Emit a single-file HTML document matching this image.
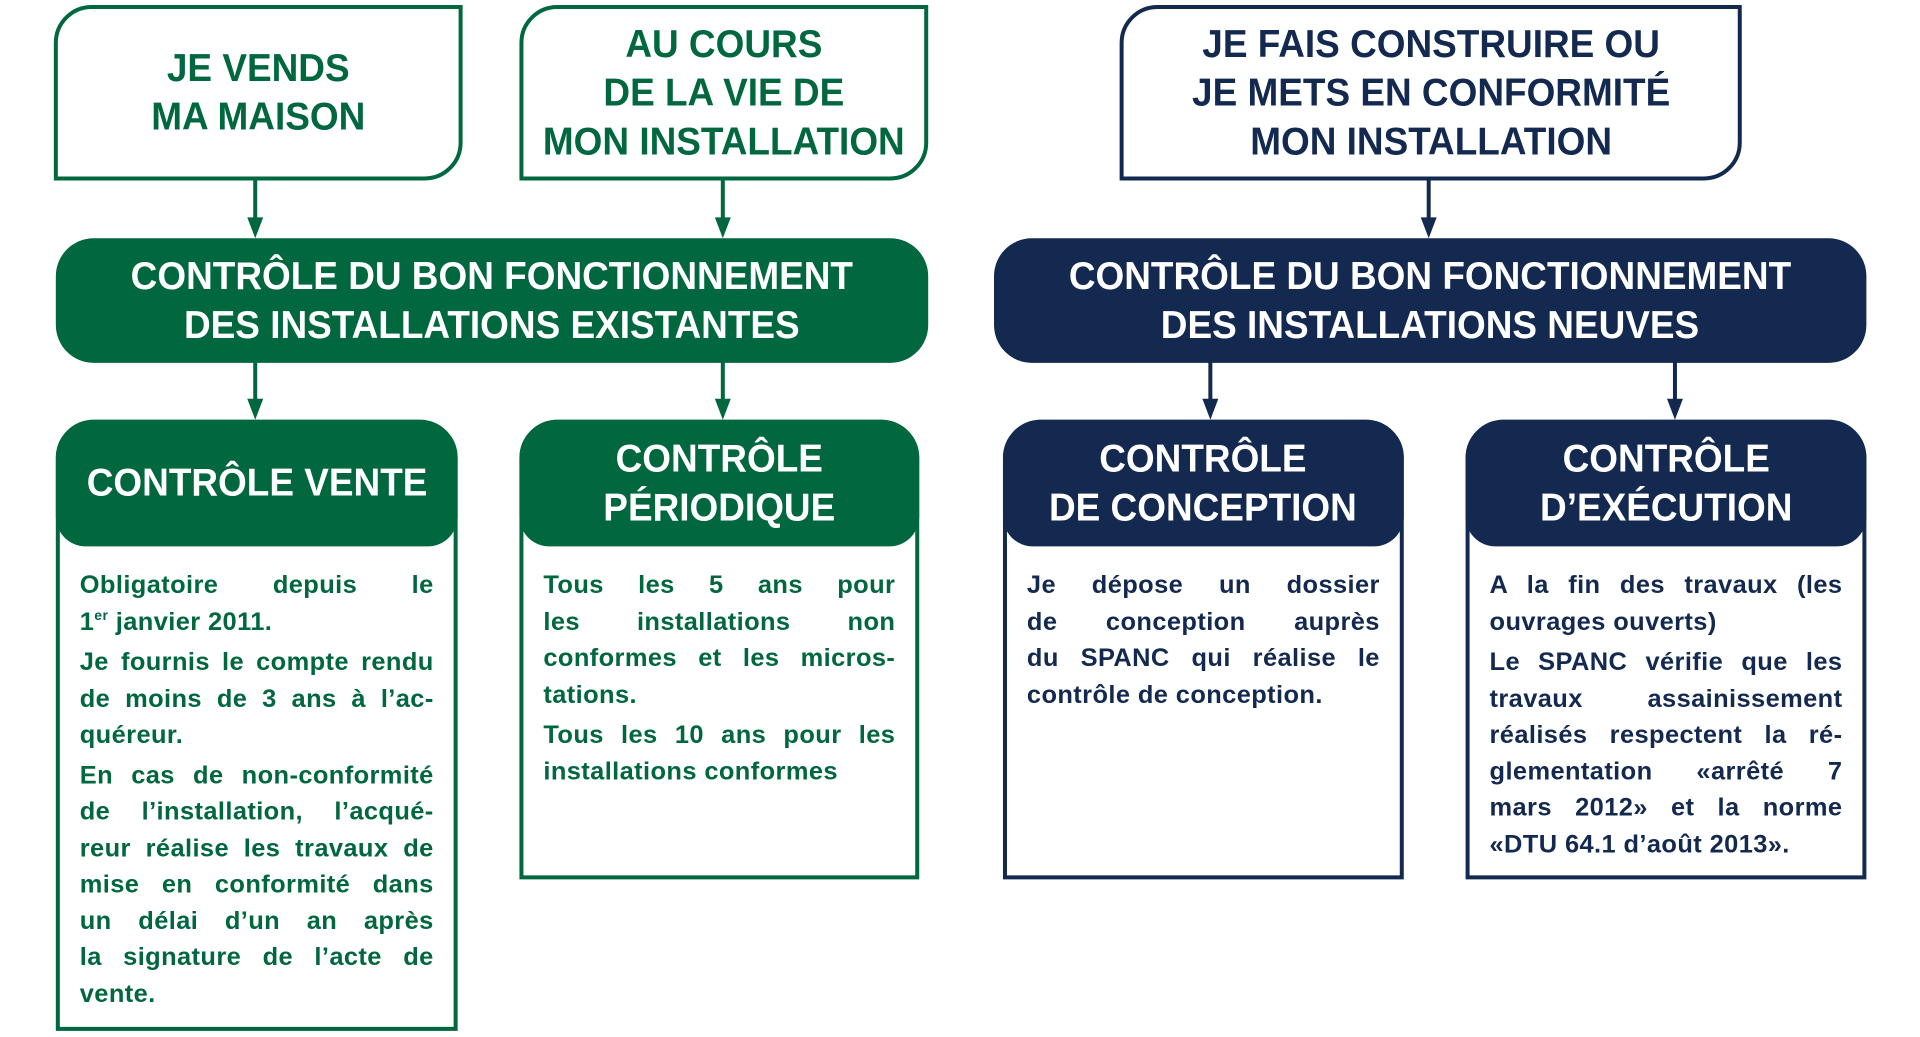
<!DOCTYPE html>
<html><head><meta charset="utf-8"><style>
*{margin:0;padding:0;box-sizing:border-box}
body{width:1920px;height:1033px;background:#fff;position:relative;overflow:hidden;font-family:"Liberation Sans",sans-serif;font-weight:bold}
#w{position:absolute;left:-1px;top:0;width:1932px;height:1040px;transform:scale(0.997);transform-origin:0 0}
.a{position:absolute}
.g{color:#00673f;border-color:#00673f}
.n{color:#13294f;border-color:#13294f}
.top{border:4px solid;border-radius:38px 0 38px 0;display:flex;align-items:center;justify-content:center;text-align:center;font-size:39px;line-height:49px}
.ban{border-radius:38px;display:flex;align-items:center;justify-content:center;text-align:center;font-size:39px;line-height:49px;color:#fff}
.sq{display:inline-block;transform:scaleX(0.95);white-space:nowrap}
.card{border:4px solid;border-radius:38px 38px 0 0}
.hd{position:absolute;left:-4px;top:-4px;right:-4px;height:127px;border-radius:38px 38px 30px 30px;color:#fff;display:flex;align-items:center;justify-content:center;text-align:center;font-size:39px;line-height:49px}
.body{position:absolute;left:20px;right:20px;top:144px;font-size:25.5px;line-height:36.5px;letter-spacing:0.4px}
.body div{white-space:nowrap;text-align:justify;text-align-last:justify}
.body div.l{text-align-last:left}
.body .p{margin-top:4px}
sup{font-size:14px;line-height:0;vertical-align:10px}
.bg{background:#00673f}.bn{background:#13294f}
</style></head><body><div id="w">
<div class="a top g" style="left:55px;top:5px;width:410px;height:176px"><span class="sq">JE VENDS<br>MA MAISON</span></div>
<div class="a top g" style="left:522px;top:5px;width:410px;height:176px"><span class="sq">AU COURS<br>DE LA VIE DE<br>MON INSTALLATION</span></div>
<div class="a top n" style="left:1124px;top:5px;width:624px;height:176px"><span class="sq">JE FAIS CONSTRUIRE OU<br>JE METS EN CONFORMITÉ<br>MON INSTALLATION</span></div>

<div class="a ban bg" style="left:57px;top:239px;width:875px;height:125px"><span class="sq">CONTRÔLE DU BON FONCTIONNEMENT<br>DES INSTALLATIONS EXISTANTES</span></div>
<div class="a ban bn" style="left:998px;top:239px;width:875px;height:125px"><span class="sq">CONTRÔLE DU BON FONCTIONNEMENT<br>DES INSTALLATIONS NEUVES</span></div>

<svg class="a" style="left:0;top:0" width="1932" height="1040">
<g stroke-width="4">
<line x1="257" y1="181" x2="257" y2="225" stroke="#00673f"/><polygon points="249,218 265,218 257,239" fill="#00673f"/>
<line x1="726" y1="181" x2="726" y2="225" stroke="#00673f"/><polygon points="718,218 734,218 726,239" fill="#00673f"/>
<line x1="1434" y1="181" x2="1434" y2="225" stroke="#13294f"/><polygon points="1426,218 1442,218 1434,239" fill="#13294f"/>
<line x1="257" y1="363" x2="257" y2="407" stroke="#00673f"/><polygon points="249,400 265,400 257,421" fill="#00673f"/>
<line x1="726" y1="363" x2="726" y2="407" stroke="#00673f"/><polygon points="718,400 734,400 726,421" fill="#00673f"/>
<line x1="1215" y1="363" x2="1215" y2="407" stroke="#13294f"/><polygon points="1207,400 1223,400 1215,421" fill="#13294f"/>
<line x1="1681" y1="363" x2="1681" y2="407" stroke="#13294f"/><polygon points="1673,400 1689,400 1681,421" fill="#13294f"/>
</g></svg>

<div class="a card g" style="left:57px;top:421px;width:403px;height:613px">
<div class="hd bg"><span class="sq">CONTRÔLE VENTE</span></div>
<div class="body">
<div>Obligatoire depuis le</div>
<div class="l">1<sup>er</sup> janvier 2011.</div>
<div class="p">Je fournis le compte rendu</div>
<div>de moins de 3 ans à l’ac-</div>
<div class="l">quéreur.</div>
<div class="p">En cas de non-conformité</div>
<div>de l’installation, l’acqué-</div>
<div>reur réalise les travaux de</div>
<div>mise en conformité dans</div>
<div>un délai d’un an après</div>
<div>la signature de l’acte de</div>
<div class="l">vente.</div>
</div></div>

<div class="a card g" style="left:522px;top:421px;width:401px;height:461px">
<div class="hd bg"><span class="sq">CONTRÔLE<br>PÉRIODIQUE</span></div>
<div class="body">
<div>Tous les 5 ans pour</div>
<div>les installations non</div>
<div>conformes et les micros-</div>
<div class="l">tations.</div>
<div class="p">Tous les 10 ans pour les</div>
<div class="l">installations conformes</div>
</div></div>

<div class="a card n" style="left:1007px;top:421px;width:402px;height:461px">
<div class="hd bn"><span class="sq">CONTRÔLE<br>DE CONCEPTION</span></div>
<div class="body">
<div>Je dépose un dossier</div>
<div>de conception auprès</div>
<div>du SPANC qui réalise le</div>
<div class="l">contrôle de conception.</div>
</div></div>

<div class="a card n" style="left:1471px;top:421px;width:402px;height:461px">
<div class="hd bn"><span class="sq">CONTRÔLE<br>D’EXÉCUTION</span></div>
<div class="body">
<div>A la fin des travaux (les</div>
<div class="l">ouvrages ouverts)</div>
<div class="p">Le SPANC vérifie que les</div>
<div>travaux assainissement</div>
<div>réalisés respectent la ré-</div>
<div>glementation «arrêté 7</div>
<div>mars 2012» et la norme</div>
<div class="l">«DTU 64.1 d’août 2013».</div>
</div></div>
</div></body></html>
